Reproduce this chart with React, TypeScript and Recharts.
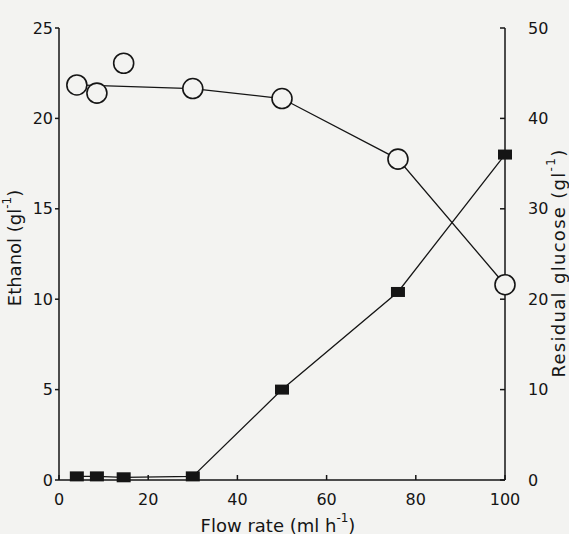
import React from 'react';
import { ComposedChart, Scatter, XAxis, YAxis, Label } from 'recharts';

// flow rate (ml/h) for each sample
const flowRate = [4, 8.5, 14.5, 30, 50, 76, 100];
// ethanol produced, g/l (left axis)
const ethanol = [0.2, 0.2, 0.15, 0.2, 5.0, 10.4, 18.0];
// residual glucose, g/l (right axis)
const glucose = [43.7, 42.8, 46.1, 43.3, 42.2, 35.5, 21.6];
// points the glucose curve is drawn through
const glucoseCurveIdx = [0, 3, 4, 5, 6];

const xTicks = [0, 20, 40, 60, 80, 100];
const leftTicks = [0, 5, 10, 15, 20, 25];
const rightTicks = [0, 10, 20, 30, 40, 50];

const ethanolData = flowRate.map((x, i) => ({ x, y: ethanol[i] }));
const glucoseData = flowRate.map((x, i) => ({ x, y: glucose[i] }));
const glucoseCurve = glucoseCurveIdx.map((i) => ({ x: flowRate[i], y: glucose[i] }));

const BG = '#f3f3f1';
const INK = '#151515';
const FONT = '"DejaVu Sans", sans-serif';

const tickStyle = { fill: INK, fontSize: 16, fontFamily: FONT };

const Square = (props: any) => {
  const { cx, cy } = props;
  if (cx == null || cy == null) return <g />;
  return <rect x={cx - 7} y={cy - 5} width={14} height={10} fill={INK} />;
};

const OpenCircle = (props: any) => {
  const { cx, cy } = props;
  if (cx == null || cy == null) return <g />;
  return <circle cx={cx} cy={cy} r={10} fill={BG} stroke={INK} strokeWidth={1.6} />;
};

const NoMark = () => <g />;

const Sup = ({ children }: { children: string }) => (
  <tspan fontSize={12} dy={-7}>
    {children}
  </tspan>
);

const LeftLabel = (props: any) => {
  const vb = props.viewBox || {};
  const x = vb.x + 14;
  const y = vb.y + vb.height / 2 - 6;
  return (
    <text x={x} y={y} transform={`rotate(-90 ${x} ${y})`} textAnchor="middle" dominantBaseline="central" fill={INK} fontSize={18} fontFamily={FONT}>
      Ethanol (gl<Sup>-1</Sup>
      <tspan dy={7}>)</tspan>
    </text>
  );
};

const RightLabel = (props: any) => {
  const vb = props.viewBox || {};
  const x = vb.x + vb.width - 11;
  const y = vb.y + vb.height / 2 + 9;
  return (
    <text x={x} y={y} transform={`rotate(-90 ${x} ${y})`} textAnchor="middle" dominantBaseline="central" fill={INK} fontSize={18} letterSpacing={1.3} fontFamily={FONT}>
      Residual glucose (gl<Sup>-1</Sup>
      <tspan dy={7}>)</tspan>
    </text>
  );
};

const BottomLabel = (props: any) => {
  const vb = props.viewBox || {};
  const x = vb.x + vb.width / 2 - 4;
  const y = vb.y + 45;
  return (
    <text x={x} y={y} textAnchor="middle" dominantBaseline="central" fill={INK} fontSize={18} fontFamily={FONT}>
      Flow rate (ml h<Sup>-1</Sup>
      <tspan dy={7}>)</tspan>
    </text>
  );
};

export default function App() {
  return (
    <div style={{ position: 'absolute', left: 0, top: 0, width: 569, height: 534, background: BG }}>
      <ComposedChart width={569} height={534} margin={{ top: 28, right: 0, bottom: 24, left: 0 }}>
        <XAxis
          type="number"
          dataKey="x"
          domain={[0, 100]}
          ticks={xTicks}
          height={30}
          stroke={INK}
          strokeWidth={1.5}
          tickSize={-5}
          tickMargin={19}
          tick={tickStyle}
        >
          <Label content={<BottomLabel />} />
        </XAxis>
        <YAxis
          yAxisId="left"
          type="number"
          dataKey="y"
          domain={[0, 25]}
          ticks={leftTicks}
          width={59}
          stroke={INK}
          strokeWidth={1.5}
          tickSize={4}
          tickMargin={2}
          tick={tickStyle}
        >
          <Label content={<LeftLabel />} />
        </YAxis>
        <YAxis
          yAxisId="right"
          orientation="right"
          type="number"
          dataKey="y"
          domain={[0, 50]}
          ticks={rightTicks}
          width={64}
          stroke={INK}
          strokeWidth={1.5}
          tickSize={-5}
          tickMargin={28}
          tick={{ ...tickStyle, textAnchor: 'start' }}
        >
          <Label content={<RightLabel />} />
        </YAxis>
        <Scatter
          yAxisId="left"
          data={ethanolData}
          line={{ stroke: INK, strokeWidth: 1.3 }}
          shape={<NoMark />}
          isAnimationActive={false}
        />
        <Scatter
          yAxisId="right"
          data={glucoseCurve}
          line={{ stroke: INK, strokeWidth: 1.3 }}
          shape={<NoMark />}
          isAnimationActive={false}
        />
        <Scatter yAxisId="left" data={ethanolData} shape={<Square />} isAnimationActive={false} />
        <Scatter yAxisId="right" data={glucoseData} shape={<OpenCircle />} isAnimationActive={false} />
      </ComposedChart>
    </div>
  );
}
